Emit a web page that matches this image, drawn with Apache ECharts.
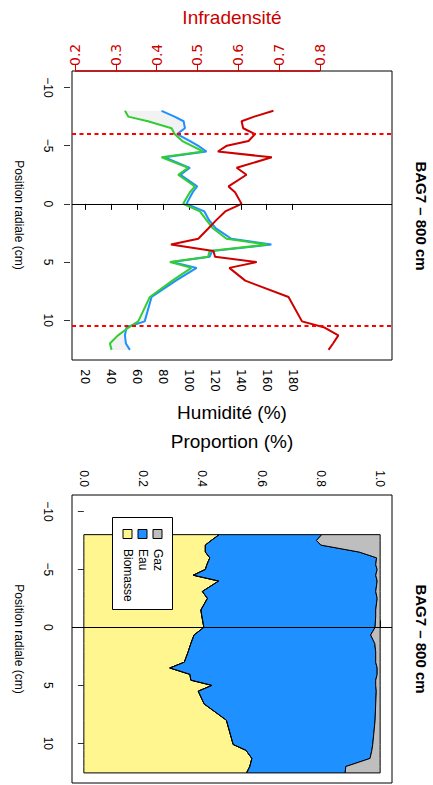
<!DOCTYPE html>
<html>
<head>
<meta charset="utf-8">
<script src="https://cdn.jsdelivr.net/npm/echarts@6/dist/echarts.min.js"></script>
<style>html,body{margin:0;padding:0;background:#fff}#c{width:433px;height:785px}</style>
</head>
<body>
<div id="c"></div>
<script>
// Radial positions (cm)
const positions = [-8, -7.5, -7.1, -6.5, -6, -5.4, -5, -4.5, -4, -3.1, -2.5, -1.5, -1, 0, 0.65, 1.4, 2.1, 3, 3.5, 4.05, 4.55, 5, 5.5, 6.6, 8, 10.1, 10.6, 11.3, 12, 12.55];
// Humidity (%) - two measures
const humidityBlue = [79, 89, 96, 97, 91, 101, 107, 113.6, 81.5, 100.8, 93.6, 106.4, 103, 98.2, 112, 115.6, 120.8, 132.8, 163.6, 118, 116, 87, 106, 90, 71.3, 66, 52, 50.8, 51.5, 54.6];
const humidityGreen = [50.8, 53.3, 68.5, 86.7, 89, 95, 102, 111, 79, 99.5, 91.8, 104.6, 100.8, 95.6, 108.5, 113.6, 118.5, 129, 160.8, 116, 114.8, 85.4, 102, 87.3, 70, 61, 54, 45.4, 39.2, 40.5];
// Infradensité
const infradensite = [0.686, 0.639, 0.608, 0.612, 0.641, 0.625, 0.572, 0.550, 0.682, 0.596, 0.620, 0.576, 0.592, 0.608, 0.568, 0.546, 0.527, 0.502, 0.435, 0.539, 0.543, 0.645, 0.578, 0.617, 0.723, 0.756, 0.809, 0.845, 0.832, 0.821];
// Proportions
const biomasse = [0.457, 0.43, 0.41, 0.41, 0.425, 0.415, 0.41, 0.369, 0.455, 0.40, 0.417, 0.395, 0.398, 0.405, 0.372, 0.361, 0.352, 0.339, 0.29, 0.358, 0.361, 0.432, 0.386, 0.406, 0.481, 0.504, 0.547, 0.567, 0.56, 0.549];
const eau = [0.346, 0.355, 0.39, 0.519, 0.563, 0.57, 0.58, 0.616, 0.535, 0.585, 0.573, 0.59, 0.587, 0.578, 0.596, 0.621, 0.633, 0.646, 0.70, 0.632, 0.624, 0.553, 0.601, 0.579, 0.502, 0.471, 0.425, 0.399, 0.324, 0.333];
const gaz = [0.197, 0.215, 0.20, 0.071, 0.012, 0.015, 0.01, 0.015, 0.01, 0.015, 0.01, 0.015, 0.015, 0.017, 0.032, 0.018, 0.015, 0.015, 0.01, 0.01, 0.015, 0.015, 0.013, 0.015, 0.017, 0.025, 0.028, 0.034, 0.116, 0.118];
// Ticks
const posTicks = [-10, -5, 0, 5, 10];
const humTicks = [20, 40, 60, 80, 100, 120, 140, 160, 180];
const infTicks = [0.2, 0.3, 0.4, 0.5, 0.6, 0.7, 0.8];
const propTicks = [0, 0.2, 0.4, 0.6, 0.8, 1.0];
const cutLines = [-6, 10.5];
const legendItems = ['Biomasse', 'Eau', 'Gaz'];
const legendColors = ['#FFF68F', '#1E90FF', '#BEBEBE'];

const FONT = 'Liberation Sans, Arial, sans-serif';
const RED3 = '#CD0000';
const minus = v => v < 0 ? '\u2212' + Math.abs(v) : String(v);

const pairs = (xs) => xs.map((x, i) => [x, positions[i]]);
const cumBio = biomasse.slice();
const cumEau = biomasse.map((b, i) => b + eau[i]);

function polyBetween(left, right) {
  return function (params, api) {
    if (params.dataIndex > 0) return null;
    const pts = [];
    for (let i = 0; i < positions.length; i++) pts.push(api.coord([left[i], positions[i]]));
    for (let i = positions.length - 1; i >= 0; i--) pts.push(api.coord([right[i], positions[i]]));
    const shade = params.seriesName === 'ombre';
    return { type: 'polygon', shape: { points: pts }, style: { fill: shade ? '#F2F2F2' : api.visual('color'), stroke: shade ? null : '#000', lineWidth: 1 } };
  };
}
const zeros = positions.map(() => 0);
const ones = positions.map(() => 1);

const posAxis = (gi) => ({
  type: 'value', gridIndex: gi, min: -11.42, max: 13.42, inverse: true, position: 'left', offset: 2,
  axisLine: { show: false }, splitLine: { show: false },
  axisTick: { show: true, length: 6, lineStyle: { color: '#333' }, customValues: posTicks },
  axisLabel: { customValues: posTicks, rotate: -90, margin: 16, fontSize: 12, fontFamily: FONT, color: '#000', formatter: minus }
});

const chart = echarts.init(document.getElementById('c'), null, { renderer: 'svg' });
chart.setOption({
  animation: false,
  backgroundColor: '#fff',
  grid: [
    { left: 72, top: 71, width: 320, height: 289, show: true, borderColor: '#000', borderWidth: 1, backgroundColor: 'transparent' },
    { left: 72, top: 495, width: 320, height: 288, show: true, borderColor: '#000', borderWidth: 1, backgroundColor: 'transparent' }
  ],
  xAxis: [
    { type: 'value', gridIndex: 0, position: 'bottom', min: 10, max: 256.5,
      axisLine: { show: false }, splitLine: { show: false },
      axisTick: { show: true, length: 6, lineStyle: { color: '#000' }, customValues: humTicks },
      axisLabel: { customValues: humTicks, rotate: -90, margin: 9, fontSize: 12, fontFamily: 'DejaVu Sans', color: '#000' } },
    { type: 'value', gridIndex: 0, position: 'top', min: 0.1927, max: 0.9764,
      axisLine: { show: false }, splitLine: { show: false },
      axisTick: { show: true, length: 7, lineStyle: { color: RED3 }, customValues: infTicks },
      axisLabel: { customValues: infTicks, rotate: -90, margin: 5, fontSize: 14, fontFamily: 'DejaVu Sans', color: RED3, formatter: v => v.toFixed(1) } },
    { type: 'value', gridIndex: 1, position: 'top', min: -0.04, max: 1.04,
      axisLine: { show: false }, splitLine: { show: false },
      axisTick: { show: true, length: 7, lineStyle: { color: '#000' }, customValues: propTicks },
      axisLabel: { customValues: propTicks, rotate: -90, margin: 8, fontSize: 12, fontFamily: FONT, color: '#000', formatter: v => v.toFixed(1) } }
  ],
  yAxis: [posAxis(0), posAxis(1)],
  series: [
    { name: 'ombre', type: 'custom', xAxisIndex: 0, yAxisIndex: 0, data: [[humidityBlue[0], positions[0]]], renderItem: polyBetween(humidityBlue, humidityGreen), z: 1, silent: true },
    { name: 'Humidité 1', type: 'line', xAxisIndex: 0, yAxisIndex: 0, data: pairs(humidityBlue), symbol: 'none', lineStyle: { color: '#1E90FF', width: 2 }, itemStyle: { color: '#1E90FF' }, z: 3,
      markLine: { silent: true, symbol: 'none', label: { show: false }, lineStyle: { color: '#000', width: 1, type: 'solid' }, data: [{ yAxis: 0 }] } },
    { name: 'Humidité 2', type: 'line', xAxisIndex: 0, yAxisIndex: 0, data: pairs(humidityGreen), symbol: 'none', lineStyle: { color: '#32CD32', width: 2 }, itemStyle: { color: '#32CD32' }, z: 3 },
    { name: 'Infradensité', type: 'line', xAxisIndex: 1, yAxisIndex: 0, data: pairs(infradensite), symbol: 'none', lineStyle: { color: RED3, width: 2 }, itemStyle: { color: RED3 }, z: 4,
      markLine: { silent: true, symbol: 'none', label: { show: false }, lineStyle: { color: '#FF0000', width: 2, type: [4, 3.5] }, data: cutLines.map(v => ({ yAxis: v })) } },
    { name: 'axeInfra', type: 'line', xAxisIndex: 1, yAxisIndex: 0, data: [[infTicks[0], -11.42], [infTicks[infTicks.length - 1], -11.42]], symbol: 'none', clip: false, lineStyle: { color: RED3, width: 1.5 }, z: 5, silent: true },
    { name: 'Biomasse', type: 'custom', xAxisIndex: 2, yAxisIndex: 1, data: [[0, positions[0]]], renderItem: polyBetween(zeros, cumBio), itemStyle: { color: '#FFF68F' }, z: 2, silent: true },
    { name: 'Eau', type: 'custom', xAxisIndex: 2, yAxisIndex: 1, data: [[0, positions[0]]], renderItem: polyBetween(cumBio, cumEau), itemStyle: { color: '#1E90FF' }, z: 2, silent: true },
    { name: 'Gaz', type: 'custom', xAxisIndex: 2, yAxisIndex: 1, data: [[0, positions[0]]], renderItem: polyBetween(cumEau, ones), itemStyle: { color: '#BEBEBE' }, z: 2, silent: true },
    { name: 'zero2', type: 'line', xAxisIndex: 2, yAxisIndex: 1, data: pairs(cumBio), symbol: 'none', lineStyle: { color: '#000', width: 1 }, z: 3, silent: true,
      markLine: { silent: true, symbol: 'none', label: { show: false }, lineStyle: { color: '#000', width: 1, type: 'solid' }, data: [{ yAxis: 0 }] } }
  ],
  graphic: [
    { type: 'text', x: 232, y: 17, style: { text: 'Infradensité', fontSize: 19, fontFamily: FONT, fill: RED3, align: 'center', verticalAlign: 'middle' } },
    { type: 'text', x: 232, y: 412, style: { text: 'Humidité (%)', fontSize: 19, fontFamily: FONT, fill: '#000', align: 'center', verticalAlign: 'middle' } },
    { type: 'text', x: 232, y: 441, style: { text: 'Proportion (%)', fontSize: 19, fontFamily: FONT, fill: '#000', align: 'center', verticalAlign: 'middle' } },
    { type: 'text', x: 421, y: 216, rotation: -Math.PI / 2, style: { text: 'BAG7 \u2013 800 cm', fontSize: 15, fontWeight: 'bold', fontFamily: FONT, fill: '#000', align: 'center', verticalAlign: 'middle' } },
    { type: 'text', x: 421, y: 639, rotation: -Math.PI / 2, style: { text: 'BAG7 \u2013 800 cm', fontSize: 15, fontWeight: 'bold', fontFamily: FONT, fill: '#000', align: 'center', verticalAlign: 'middle' } },
    { type: 'text', x: 19, y: 215, rotation: -Math.PI / 2, style: { text: 'Position radiale (cm)', fontSize: 12, fontFamily: FONT, fill: '#000', align: 'center', verticalAlign: 'middle' } },
    { type: 'text', x: 19, y: 639, rotation: -Math.PI / 2, style: { text: 'Position radiale (cm)', fontSize: 12, fontFamily: FONT, fill: '#000', align: 'center', verticalAlign: 'middle' } },
    { type: 'rect', shape: { x: 112.5, y: 517.5, width: 60, height: 92 }, style: { fill: '#fff', stroke: '#000', lineWidth: 1 }, z: 100 },
    ...legendItems.map((name, i) => ({ type: 'rect', shape: { x: 123 + 15 * i, y: 529.5, width: 9, height: 9 }, style: { fill: legendColors[i], stroke: '#000', lineWidth: 1 }, z: 101 })),
    ...legendItems.map((name, i) => ({ type: 'text', x: 127.5 + 15 * i, y: 549, rotation: -Math.PI / 2, style: { text: name, fontSize: 12, fontFamily: FONT, fill: '#000', align: 'left', verticalAlign: 'middle' }, z: 101 }))
  ]
});
</script>
</body>
</html>
